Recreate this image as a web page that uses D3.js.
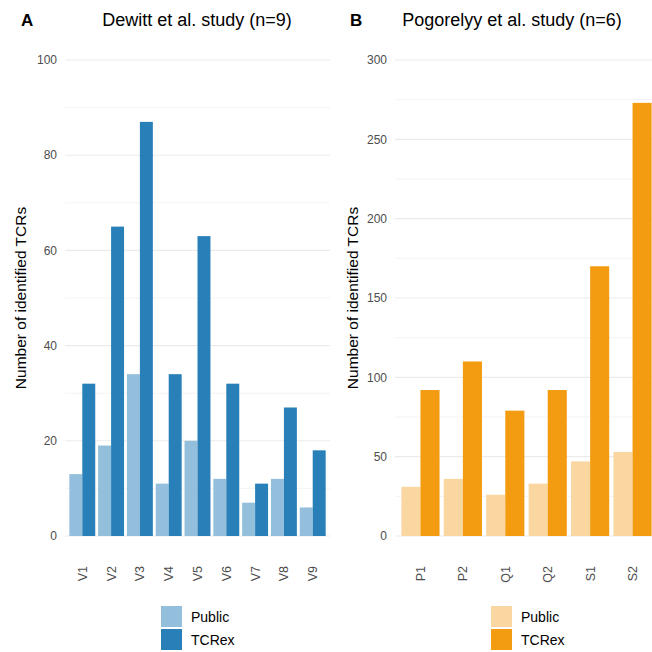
<!DOCTYPE html>
<html>
<head>
<meta charset="utf-8">
<script src="https://cdn.jsdelivr.net/npm/d3@7"></script>
<style>
  body { margin: 0; background: #fff; }
  svg { display: block; font-family: "Liberation Sans", Arial, sans-serif; }
</style>
</head>
<body>
<div id="chart"></div>
<script>
// Panel A: Dewitt et al.
const dewittSamples = ["V1", "V2", "V3", "V4", "V5", "V6", "V7", "V8", "V9"];
const dewittPublic = [13, 19, 34, 11, 20, 12, 7, 12, 6];
const dewittTcrex = [32, 65, 87, 34, 63, 32, 11, 27, 18];
const dewittTicks = [0, 20, 40, 60, 80, 100];

// Panel B: Pogorelyy et al.
const pogoSamples = ["P1", "P2", "Q1", "Q2", "S1", "S2"];
const pogoPublic = [31, 36, 26, 33, 47, 53];
const pogoTcrex = [92, 110, 79, 92, 170, 273];
const pogoTicks = [0, 50, 100, 150, 200, 250, 300];

const seriesNames = ["Public", "TCRex"];

const W = 652, H = 652;
const svg = d3.select("#chart").append("svg")
    .attr("width", W)
    .attr("height", H);

function drawPanel(opts) {
    const { letter, title, samples, pub, tcrex, ticks, colors, x0, x1, titleX, yTitleX, legendX } = opts;
    const yTop = 60, yBottom = 536;
    const g = svg.append("g");

    // ggplot style discrete expansion: 0.6 units each side, bars 0.9 wide
    const n = samples.length;
    const step = (x1 - x0) / (n + 0.2);
    const xBand = d3.scaleBand()
        .domain(samples)
        .range([x0 + 0.1 * step, x1 - 0.1 * step])
        .paddingInner(0.1)
        .paddingOuter(0.05);
    const xSub = d3.scaleBand()
        .domain(seriesNames)
        .range([0, xBand.bandwidth()]);

    const maxTick = ticks[ticks.length - 1];
    const y = d3.scaleLinear().domain([0, maxTick]).range([yBottom, yTop]);

    // minor grid
    const half = ticks[1] / 2;
    const minor = ticks.slice(0, -1).map(t => t + half);
    g.selectAll(".minor").data(minor).enter().append("line")
        .attr("x1", x0).attr("x2", x1)
        .attr("y1", d => y(d)).attr("y2", d => y(d))
        .attr("stroke", "#ebebeb").attr("stroke-width", 0.6);
    // major grid
    g.selectAll(".major").data(ticks).enter().append("line")
        .attr("x1", x0).attr("x2", x1)
        .attr("y1", d => y(d)).attr("y2", d => y(d))
        .attr("stroke", "#ebebeb").attr("stroke-width", 1.1);

    // bars
    samples.forEach((s, i) => {
        const vals = [pub[i], tcrex[i]];
        vals.forEach((v, j) => {
            g.append("rect")
                .attr("x", xBand(s) + xSub(seriesNames[j]))
                .attr("width", xSub.bandwidth())
                .attr("y", y(v))
                .attr("height", yBottom - y(v))
                .attr("fill", colors[j]);
        });
    });

    // y tick labels
    g.selectAll(".ytick").data(ticks).enter().append("text")
        .attr("x", x0 - 8)
        .attr("y", d => y(d))
        .attr("dy", "0.35em")
        .attr("text-anchor", "end")
        .attr("fill", "#4d4d4d")
        .style("font-size", "12px")
        .text(d => d);

    // x tick labels, rotated
    samples.forEach(s => {
        const cx = xBand(s) + xBand.bandwidth() / 2;
        g.append("text")
            .attr("transform", `translate(${cx + 4.5},566) rotate(-90)`)
            .attr("text-anchor", "end")
            .attr("fill", "#4d4d4d")
            .style("font-size", "12.5px")
            .text(s);
    });

    // y axis title
    g.append("text")
        .attr("transform", `translate(${yTitleX},${(yTop + yBottom) / 2}) rotate(-90)`)
        .attr("text-anchor", "middle")
        .attr("fill", "#000")
        .style("font-size", "15.5px")
        .text("Number of identified TCRs");

    // panel title and letter
    g.append("text")
        .attr("x", titleX).attr("y", 26)
        .attr("text-anchor", "middle")
        .style("font-size", "18px")
        .text(title);
    g.append("text")
        .attr("x", opts.letterX).attr("y", 26)
        .style("font-size", "17px")
        .style("font-weight", "bold")
        .text(letter);

    // legend
    seriesNames.forEach((name, j) => {
        g.append("rect")
            .attr("x", legendX).attr("y", 606 + j * 23)
            .attr("width", 21).attr("height", 21)
            .attr("fill", colors[j]);
        g.append("text")
            .attr("x", legendX + 30).attr("y", 617 + j * 23)
            .attr("dy", "0.35em")
            .style("font-size", "14px")
            .text(name);
    });
}

drawPanel({
    letter: "A", letterX: 21,
    title: "Dewitt et al. study (n=9)", titleX: 197,
    samples: dewittSamples, pub: dewittPublic, tcrex: dewittTcrex, ticks: dewittTicks,
    colors: ["#94bfdc", "#2980b9"],
    x0: 65, x1: 330, yTitleX: 26, legendX: 161
});

drawPanel({
    letter: "B", letterX: 350,
    title: "Pogorelyy et al. study (n=6)", titleX: 512,
    samples: pogoSamples, pub: pogoPublic, tcrex: pogoTcrex, ticks: pogoTicks,
    colors: ["#fad7a0", "#f39c12"],
    x0: 395, x1: 658, yTitleX: 358, legendX: 491
});
</script>
</body>
</html>
